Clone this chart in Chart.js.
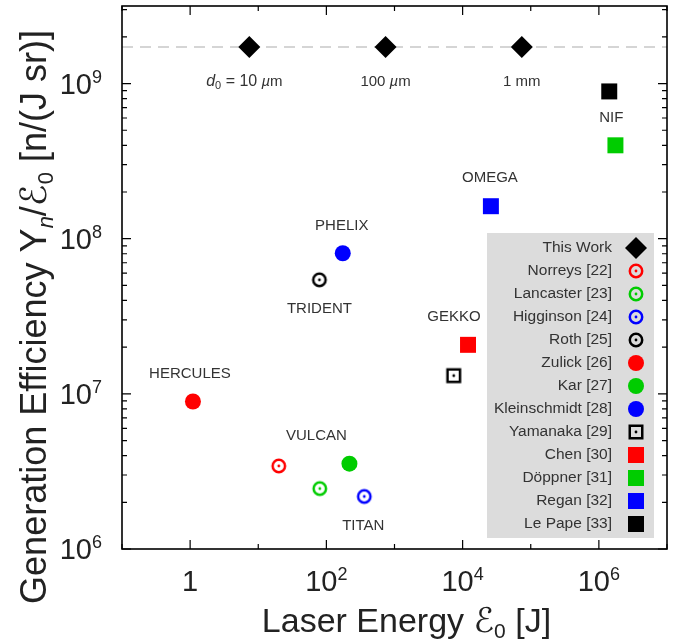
<!DOCTYPE html>
<html>
<head>
<meta charset="utf-8">
<title>Neutron generation efficiency</title>
<script src="https://cdn.jsdelivr.net/npm/chart.js@4.4.1/dist/chart.umd.min.js"></script>
<style>
  html, body { margin: 0; padding: 0; background: #fff; }
  #wrap { width: 676px; height: 643px; }
</style>
</head>
<body>
<div id="wrap"><canvas id="yieldChart" width="676" height="643"></canvas></div>
<script>
/* ---------- this work: three target sizes ---------- */
const thisWorkEnergy = [7.4, 740, 74000];          // J
const thisWorkEff    = [1.72e9, 1.72e9, 1.72e9];   // n/(J sr)
const sizeLabels     = ['d0 = 10 µm', '100 µm', '1 mm'];

/* ---------- published results ---------- */
const refNames   = ['Norreys [22]', 'Lancaster [23]', 'Higginson [24]', 'Roth [25]',
                    'Zulick [26]', 'Kar [27]', 'Kleinschmidt [28]', 'Yamanaka [29]',
                    'Chen [30]', 'Döppner [31]', 'Regan [32]', 'Le Pape [33]'];
const refEnergy  = [20, 80, 360, 79, 1.1, 218, 174, 7400, 12000, 1.75e6, 2.6e4, 1.42e6];
const refEff     = [3.43e6, 2.45e6, 2.18e6, 5.43e7, 8.93e6, 3.55e6, 8.06e7, 1.31e7,
                    2.07e7, 4.0e8, 1.62e8, 8.9e8];
const refColors  = ['#ff0000', '#00cc00', '#0000ff', '#000000', '#ff0000', '#00cc00',
                    '#0000ff', '#000000', '#ff0000', '#00cc00', '#0000ff', '#000000'];
const refMarkers = ['ring', 'ring', 'ring', 'ring', 'disc', 'disc', 'disc', 'ringSquare',
                    'square', 'square', 'square', 'square'];

/* ---------- facility names, tied to a reference point ---------- */
const facilityNames = ['HERCULES', 'VULCAN', 'TITAN', 'TRIDENT', 'PHELIX', 'GEKKO', 'OMEGA', 'NIF'];
const facilityRef   = [4, 5, 2, 3, 6, 8, 10, 11];

/* ---------- axis ticks ---------- */
const xRange      = [0.1, 1e7];
const yRange      = [1e6, Math.pow(10, 9.5)];
const xTickValues = [1, 1e2, 1e4, 1e6];
const xTickLabels = ['1', '10^2', '10^4', '10^6'];
const yTickValues = [1e6, 1e7, 1e8, 1e9];
const yTickLabels = ['10^6', '10^7', '10^8', '10^9'];

/* ---------- look ---------- */
const SANS   = "'Liberation Sans', Arial, Helvetica, sans-serif";
const SCRIPT = "'DejaVu Sans', sans-serif";
const TXT    = '#222';
const LABEL  = '#333';
const FACILITY_OFFSET = [[-3, -28], [-33, -28], [-1, 29], [0, 29], [-1, -27], [-14, -28], [-1, -28], [2, 26]];
const SIZE_LABEL_DY = 34;

/* ---------- marker images for the open (dotted) symbols ---------- */
function markerImage (kind, color) {
  const c = document.createElement('canvas');
  c.width = c.height = 20;
  const g = c.getContext('2d');
  g.strokeStyle = color; g.fillStyle = color; g.lineWidth = 2.5;
  g.beginPath();
  if (kind === 'ring') g.arc(10, 10, 6.2, 0, 2 * Math.PI);
  else g.rect(3.75, 3.75, 12.5, 12.5);
  g.stroke();
  g.beginPath(); g.arc(10, 10, 1.4, 0, 2 * Math.PI); g.fill();
  return c;
}

const markerStyle = (kind, color) => {
  if (kind === 'disc')    return { pointStyle: 'circle', pointRadius: 8 };
  if (kind === 'square')  return { pointStyle: 'rect',   pointRadius: 11.3 };
  if (kind === 'diamond') return { pointStyle: 'rectRot', pointRadius: 11 };
  return { pointStyle: markerImage(kind, color), pointRadius: 10 };
};

/* ---------- datasets ---------- */
const datasets = [{
  label: 'This Work',
  data: thisWorkEnergy.map((x, i) => ({ x, y: thisWorkEff[i] })),
  backgroundColor: '#000', borderWidth: 0,
  ...markerStyle('diamond', '#000')
}];
refNames.forEach((name, i) => datasets.push({
  label: name,
  data: [{ x: refEnergy[i], y: refEff[i] }],
  backgroundColor: refColors[i], borderColor: refColors[i], borderWidth: 0,
  ...markerStyle(refMarkers[i], refColors[i])
}));
// dashed guide through the three target sizes (last → painted first)
datasets.push({
  label: 'guide',
  data: [{ x: xRange[0], y: thisWorkEff[0] }, { x: xRange[1], y: thisWorkEff[0] }],
  showLine: true, pointRadius: 0, borderColor: '#c8c8c8', borderWidth: 1.6,
  borderDash: [11, 7]
});

/* ---------- text helpers ---------- */
function drawRich (ctx, parts, x, y, align) {
  let w = 0;
  parts.forEach(p => { ctx.font = p.font; p.w = ctx.measureText(p.text).width; w += p.w; });
  let cx = align === 'center' ? x - w / 2 : align === 'right' ? x - w : x;
  ctx.textAlign = 'left';
  ctx.textBaseline = 'alphabetic';
  parts.forEach(p => { ctx.font = p.font; ctx.fillText(p.text, cx, y + (p.dy || 0)); cx += p.w; });
}

const powerParts = label => {
  const [base, exp] = label.split('^');
  const parts = [{ text: base, font: `29px ${SANS}` }];
  if (exp) parts.push({ text: exp, font: `18px ${SANS}`, dy: -11 });
  return parts;
};

/* ---------- frame, inward ticks, tick labels, titles ---------- */
const axesPlugin = {
  id: 'axesPlugin',
  afterDraw (chart) {
    const { ctx, chartArea: a, scales: { x, y } } = chart;
    ctx.save();
    ctx.strokeStyle = '#000';
    ctx.lineWidth = 1.2;
    ctx.beginPath();
    x.ticks.forEach(t => {
      const px = x.getPixelForValue(t.value);
      const len = Math.round(Math.log10(t.value)) % 2 === 0 ? 9 : 5;
      ctx.moveTo(px, a.bottom); ctx.lineTo(px, a.bottom - len);
      ctx.moveTo(px, a.top);    ctx.lineTo(px, a.top + len);
    });
    y.ticks.forEach(t => {
      const py = y.getPixelForValue(t.value);
      const lg = Math.log10(t.value);
      const len = Math.abs(lg - Math.round(lg)) < 1e-6 ? 9 : 5;
      ctx.moveTo(a.left, py);  ctx.lineTo(a.left + len, py);
      ctx.moveTo(a.right, py); ctx.lineTo(a.right - len, py);
    });
    ctx.stroke();
    ctx.lineWidth = 1.6;
    ctx.strokeRect(a.left, a.top, a.right - a.left, a.bottom - a.top);

    ctx.fillStyle = TXT;
    xTickValues.forEach((v, i) =>
      drawRich(ctx, powerParts(xTickLabels[i]), x.getPixelForValue(v), a.bottom + 42, 'center'));
    yTickValues.forEach((v, i) =>
      drawRich(ctx, powerParts(yTickLabels[i]), a.left - 20, y.getPixelForValue(v) + 10, 'right'));

    // axis titles
    drawRich(ctx, [
      { text: 'Laser Energy ', font: `34px ${SANS}` },
      { text: 'ℰ', font: `italic 34px ${SCRIPT}` },
      { text: '0', font: `21px ${SANS}`, dy: 6 },
      { text: ' [J]', font: `34px ${SANS}` }
    ], (a.left + a.right) / 2 + 12, 632, 'center');

    ctx.translate(46, 317);
    ctx.rotate(-Math.PI / 2);
    drawRich(ctx, [
      { text: 'Generation Efficiency ', font: `36px ${SANS}` },
      { text: 'Y', font: `36px ${SANS}` },
      { text: 'n', font: `italic 22px ${SANS}`, dy: 7 },
      { text: '/', font: `36px ${SANS}` },
      { text: 'ℰ', font: `italic 36px ${SCRIPT}` },
      { text: '0', font: `22px ${SANS}`, dy: 7 },
      { text: ' [n/(J sr)]', font: `36px ${SANS}` }
    ], 0, 0, 'center');
    ctx.restore();
  }
};

/* ---------- facility + target-size annotations ---------- */
const notesPlugin = {
  id: 'notesPlugin',
  afterDatasetsDraw (chart) {
    const { ctx, scales: { x, y } } = chart;
    ctx.save();
    ctx.fillStyle = LABEL;
    ctx.textAlign = 'center';
    ctx.textBaseline = 'middle';
    ctx.font = `15px ${SANS}`;
    facilityNames.forEach((name, i) => {
      const r = facilityRef[i];
      const [dx, dy] = FACILITY_OFFSET[i];
      ctx.fillText(name, x.getPixelForValue(refEnergy[r]) + dx, y.getPixelForValue(refEff[r]) + dy);
    });
    sizeLabels.forEach((s, i) => {
      const px = x.getPixelForValue(thisWorkEnergy[i]);
      const py = y.getPixelForValue(thisWorkEff[i]) + SIZE_LABEL_DY + 5;
      const m = s.match(/^d0 = (.*) µm$/);
      const tail = [{ text: ' ', font: `15px ${SANS}` }, { text: 'µ', font: `italic 15px ${SANS}` }];
      if (m) {
        drawRich(ctx, [
          { text: 'd', font: `italic 16px ${SANS}` },
          { text: '0', font: `11px ${SANS}`, dy: 3 },
          { text: ` = ${m[1]}`, font: `16px ${SANS}` },
          ...tail, { text: 'm', font: `15px ${SANS}` }
        ], px - 5, py, 'center');
      } else if (s.endsWith('µm')) {
        drawRich(ctx, [
          { text: s.replace(' µm', ''), font: `15px ${SANS}` },
          ...tail, { text: 'm', font: `15px ${SANS}` }
        ], px, py, 'center');
      } else {
        drawRich(ctx, [{ text: s, font: `15px ${SANS}` }], px, py, 'center');
      }
    });
    ctx.restore();
  }
};

/* ---------- grey key box, text left of symbol ---------- */
const keyPlugin = {
  id: 'keyPlugin',
  afterDraw (chart) {
    const { ctx, chartArea: a } = chart;
    const box = { l: a.right - 180, t: a.bottom - 316, r: a.right - 13, b: a.bottom - 11 };
    ctx.save();
    ctx.fillStyle = '#dcdcdc';
    ctx.fillRect(box.l, box.t, box.r - box.l, box.b - box.t);
    ctx.font = `15.5px ${SANS}`;
    ctx.textAlign = 'right';
    ctx.textBaseline = 'middle';
    chart.data.datasets.slice(0, 13).forEach((ds, i) => {
      const yy = box.t + 15 + i * 23;
      ctx.fillStyle = LABEL;
      ctx.fillText(ds.label, box.l + 125, yy);
      ctx.fillStyle = ds.backgroundColor;
      Chart.helpers.drawPoint(ctx, {
        pointStyle: ds.pointStyle, radius: ds.pointRadius, rotation: 0, borderWidth: 0
      }, box.r - 18, yy);
    });
    ctx.restore();
  }
};

new Chart(document.getElementById('yieldChart'), {
  type: 'scatter',
  data: { datasets },
  options: {
    responsive: false,
    animation: false,
    devicePixelRatio: 1,
    events: [],
    layout: { autoPadding: false, padding: { left: 122, right: 9, top: 6, bottom: 94 } },
    plugins: { legend: { display: false }, tooltip: { enabled: false } },
    scales: {
      x: {
        type: 'logarithmic', display: false, min: xRange[0], max: xRange[1],
        afterBuildTicks: s => {
          const t = [];
          for (let e = -1; e <= 7; e++) t.push({ value: Math.pow(10, e) });
          s.ticks = t;
        }
      },
      y: {
        type: 'logarithmic', display: false, min: yRange[0], max: yRange[1],
        afterBuildTicks: s => {
          const t = [];
          for (let e = 6; e <= 9; e++)
            for (let m = 1; m <= 9; m++)
              if (m * Math.pow(10, e) <= yRange[1]) t.push({ value: m * Math.pow(10, e) });
          s.ticks = t;
        }
      }
    }
  },
  plugins: [axesPlugin, notesPlugin, keyPlugin]
});
</script>
</body>
</html>
